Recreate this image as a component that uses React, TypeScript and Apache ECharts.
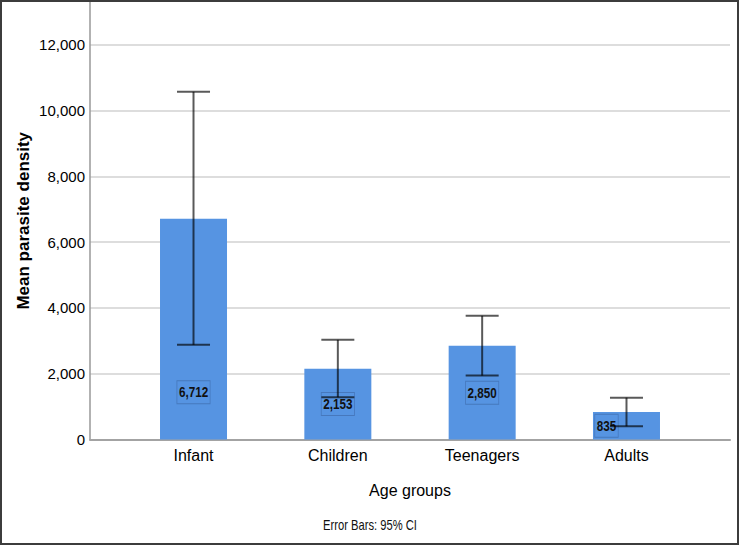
import React, { useEffect, useRef } from "react";
import * as echarts from "echarts";

const categories = ["Infant", "Children", "Teenagers", "Adults"];
const means = [6712, 2153, 2850, 835];
const ciLower = [2877, 1285, 1942, 402];
const ciUpper = [10570, 3029, 3760, 1272];
const yMin = 0;
const yMax = 13300;
const yInterval = 2000;
const yAxisTitle = "Mean parasite density";
const xAxisTitle = "Age groups";
const footnote = "Error Bars: 95% CI";

const BAR_COLOR = "#5694E2";
const SANS = '"Liberation Sans", Arial, sans-serif';

export default function App() {
  const ref = useRef<HTMLDivElement>(null);
  useEffect(() => {
    if (!ref.current) return;
    const chart = echarts.init(ref.current, undefined, { renderer: "svg" });
    const fmt = (v: number) => v.toLocaleString("en-US");
    const option: any = {
      animation: false,
      backgroundColor: "#ffffff",
      grid: [
        { left: 90, right: 10, top: 2, bottom: 106.5 },
        { left: 121.35, right: 41.35, top: 2, bottom: 106.5 },
      ],
      xAxis: [
        {
          gridIndex: 0,
          type: "category",
          data: categories,
          axisLabel: { show: false },
          axisTick: { show: false },
          axisLine: { show: true, lineStyle: { color: "#a3a3a3", width: 2 } },
        },
        {
          gridIndex: 1,
          type: "category",
          data: categories,
          axisLine: { show: false },
          axisTick: { show: false },
          axisLabel: { color: "#000", fontSize: 16, fontFamily: SANS, margin: 8 },
          name: xAxisTitle,
          nameLocation: "middle",
          nameGap: 43,
          nameMoveOverlap: false,
          nameTextStyle: { color: "#000", fontSize: 16, fontFamily: SANS },
        },
      ],
      yAxis: [
        {
          gridIndex: 0,
          type: "value",
          min: yMin,
          max: yMax,
          interval: yInterval,
          axisLine: { show: true, lineStyle: { color: "#999", width: 1.5 } },
          axisTick: { show: false },
          axisLabel: {
            color: "#000",
            fontSize: 15,
            fontFamily: SANS,
            margin: 5,
            showMaxLabel: false,
            formatter: (v: number) => fmt(v),
          },
          splitLine: { show: true, showMaxLine: false, lineStyle: { color: "#d2d2d2", width: 1.5 } },
          name: yAxisTitle,
          nameLocation: "middle",
          nameRotate: 90,
          nameGap: 58,
          nameMoveOverlap: false,
          nameTextStyle: { color: "#000", fontSize: 17, fontWeight: "bold", fontFamily: SANS },
        },
        {
          gridIndex: 1,
          type: "value",
          min: yMin,
          max: yMax,
          interval: yInterval,
          show: false,
          splitLine: { show: false },
        },
      ],
      series: [
        {
          type: "bar",
          xAxisIndex: 1,
          yAxisIndex: 1,
          data: means,
          barWidth: 67,
          itemStyle: { color: BAR_COLOR },
          z: 2,
        },
        {
          type: "custom",
          xAxisIndex: 1,
          yAxisIndex: 1,
          data: categories.map((_, i) => [i, means[i], ciLower[i]]),
          z: 3,
          renderItem: (params: any, api: any) => {
            const i = api.value(0);
            const mean = api.value(1);
            const lower = api.value(2);
            const labelVal = mean / 2 > lower + 100 ? lower / 2 : mean / 2;
            const p = api.coord([i, labelVal]);
            const base = api.coord([i, 0]);
            const top = api.coord([i, mean]);
            const shortBar = base[1] - top[1] < 40;
            return {
              type: "text",
              x: p[0] + (shortBar ? -20 : 0),
              y: p[1],
              scaleX: 0.78,
              style: {
                text: fmt(mean),
                fill: "#111",
                font: `bold 15px ${SANS}`,
                align: "center",
                verticalAlign: "middle",
                backgroundColor: BAR_COLOR,
                borderColor: "rgba(40,70,120,0.35)",
                borderWidth: 1,
                padding: [4, 2, 3, 2],
              },
            };
          },
        },
        {
          type: "custom",
          xAxisIndex: 1,
          yAxisIndex: 1,
          data: categories.map((_, i) => [i, ciLower[i], ciUpper[i]]),
          z: 4,
          renderItem: (params: any, api: any) => {
            const i = api.value(0);
            const lo = api.coord([i, api.value(1)]);
            const hi = api.coord([i, api.value(2)]);
            const half = 16.5;
            const style = { stroke: "rgba(0,0,0,0.65)", lineWidth: 2, fill: "none" };
            return {
              type: "group",
              children: [
                { type: "line", shape: { x1: hi[0], y1: hi[1], x2: lo[0], y2: lo[1] }, style },
                { type: "line", shape: { x1: hi[0] - half, y1: hi[1], x2: hi[0] + half, y2: hi[1] }, style },
                { type: "line", shape: { x1: lo[0] - half, y1: lo[1], x2: lo[0] + half, y2: lo[1] }, style },
              ],
            };
          },
        },
      ],
      graphic: [
        {
          type: "rect",
          shape: { x: 1, y: 1, width: 737, height: 543 },
          style: { fill: "none", stroke: "#3c3c3c", lineWidth: 2 },
          silent: true,
          z: 100,
        },
        {
          type: "text",
          x: 370,
          y: 526,
          scaleX: 0.8,
          style: {
            text: footnote,
            fill: "#111",
            font: `500 14px ${SANS}`,
            align: "center",
            verticalAlign: "middle",
          },
        },
      ],
    };
    chart.setOption(option);
    return () => chart.dispose();
  }, []);
  return (
    <div
      ref={ref}
      style={{ position: "absolute", left: 0, top: 0, width: 740, height: 546 }}
    />
  );
}
